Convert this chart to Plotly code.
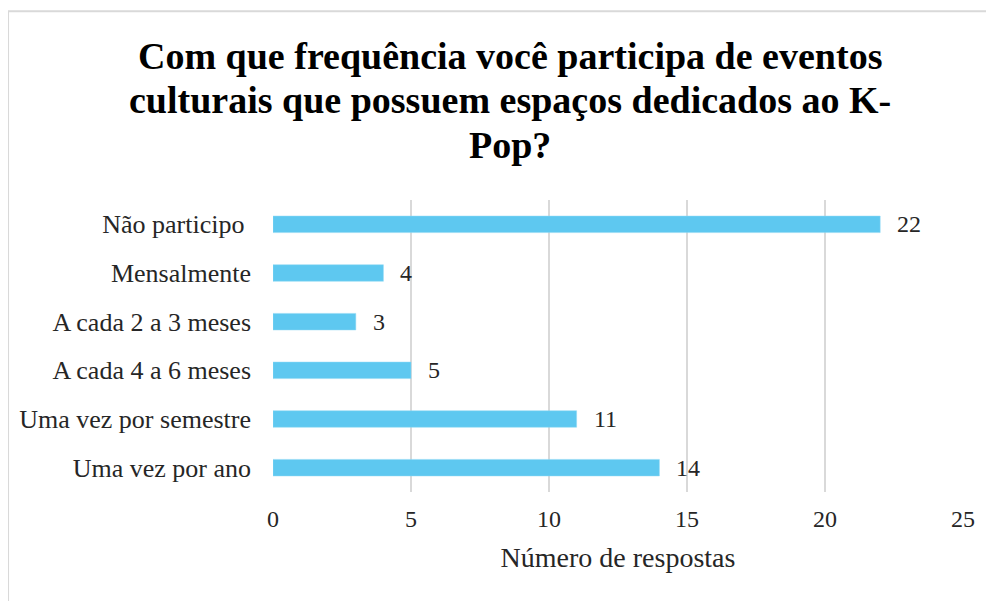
import plotly.graph_objects as go

categorias = ['Não participo\u00a0', 'Mensalmente', 'A cada 2 a 3 meses',
              'A cada 4 a 6 meses', 'Uma vez por semestre', 'Uma vez por ano']
respostas = [22, 4, 3, 5, 11, 14]
x_ticks = [0, 5, 10, 15, 20, 25]

titulo_linhas = ['Com que frequência você participa de eventos',
                 'culturais que possuem espaços dedicados ao K-',
                 'Pop?']

fonte = 'Liberation Serif'

# ordem de cima para baixo
cats = categorias[::-1]
vals = respostas[::-1]

fig = go.Figure()
fig.add_trace(go.Bar(
    y=cats, x=vals, orientation='h',
    marker=dict(color='#5EC8F0', line=dict(color='#8ED8F5', width=0.5)),
    width=0.34,
    hoverinfo='skip'
))

# rótulos de valor
for c, v in zip(cats, vals):
    fig.add_annotation(x=v, y=c, text=str(v), showarrow=False,
                       xanchor='left', xshift=15,
                       font=dict(family=fonte, size=24, color='#262626'))

# título em três linhas (espaçamento como no original)
for linha, yp in zip(titulo_linhas, [1.493, 1.341, 1.187]):
    fig.add_annotation(x=0.344, y=yp, xref='paper', yref='paper',
                       text='<b>' + linha + '</b>', showarrow=False,
                       xanchor='center', yanchor='middle',
                       font=dict(family=fonte, size=38, color='black'))

# moldura do gráfico
fig.add_shape(type='rect', xref='paper', yref='paper',
              x0=-0.384, x1=1.1, y0=-0.5, y1=1.6465,
              line=dict(color='#d9d9d9', width=2), layer='below')

# a página tem margem de 8px no body: compensar nas margens
fig.update_layout(
    width=994, height=601,
    margin=dict(l=265, r=39, t=192, b=117),
    paper_bgcolor='white', plot_bgcolor='white',
    showlegend=False,
    font=dict(family=fonte, size=24, color='#262626'),
)
fig.update_xaxes(range=[0, 25], tickvals=x_ticks, showgrid=True,
                 gridcolor='#d9d9d9', gridwidth=2, zeroline=False,
                 showline=False, ticklabelstandoff=10,
                 tickfont=dict(family=fonte, size=24, color='#262626'),
                 title=dict(text='Número de respostas', standoff=16,
                            font=dict(family=fonte, size=28, color='#262626')))
fig.update_yaxes(categoryorder='array', categoryarray=cats,
                 range=[-0.5, 5.5], showgrid=False, zeroline=False,
                 showline=False, ticklabelstandoff=21,
                 tickfont=dict(family=fonte, size=26, color='#262626'))

fig.write_html('out.html')
